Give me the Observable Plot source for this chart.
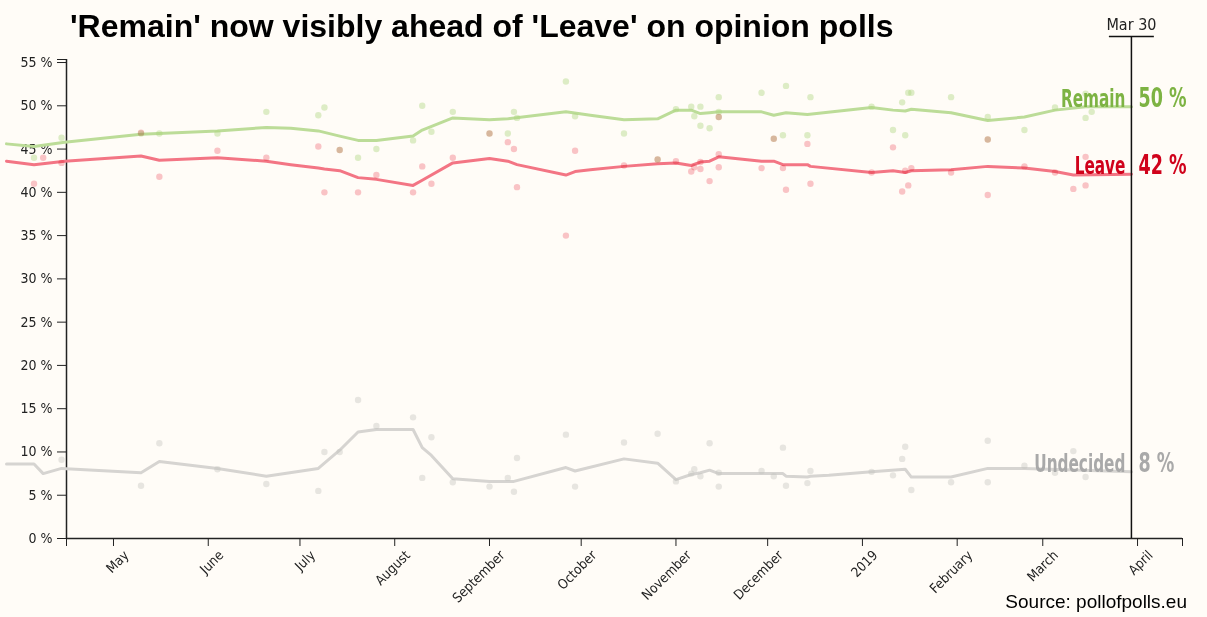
<!DOCTYPE html>
<html>
<head>
<meta charset="utf-8">
<script src="https://cdn.jsdelivr.net/npm/d3@7"></script>
<script src="https://cdn.jsdelivr.net/npm/@observablehq/plot@0.6"></script>
<style>
  html, body { margin: 0; padding: 0; background: #fffcf7; }
  #wrap { position: relative; width: 1207px; height: 617px; overflow: hidden; }
  #chart { position: absolute; left: 0; top: 0; }
  #title { position: absolute; left: 70px; top: 9.6px; font: bold 32px "Liberation Sans", Arial, sans-serif; line-height: 32px; color: #000; white-space: nowrap; }
  #source { position: absolute; right: 20px; top: 592px; font: 19px "Liberation Sans", Arial, sans-serif; line-height: 19px; color: #000; white-space: nowrap; }
</style>
</head>
<body>
<div id="wrap">
  <div id="chart"></div>
  <div id="title">'Remain' now visibly ahead of 'Leave' on opinion polls</div>
  <div id="source">Source: pollofpolls.eu</div>
</div>
<script>
// ---------- DATA ----------
const seriesNames = ["Remain", "Leave", "Undecided"];

const remainTrend = [
  ["2018-03-27", 45.6], ["2018-04-05", 45.3], ["2018-04-15", 45.8], ["2018-05-10", 46.7],
  ["2018-06-04", 47.1], ["2018-06-20", 47.5], ["2018-06-28", 47.4], ["2018-07-07", 47.1],
  ["2018-07-14", 46.5], ["2018-07-20", 46.0], ["2018-07-26", 46.0], ["2018-08-07", 46.5],
  ["2018-08-10", 47.2], ["2018-08-20", 48.6], ["2018-09-01", 48.4], ["2018-09-07", 48.5],
  ["2018-09-26", 49.3], ["2018-10-04", 48.9], ["2018-10-15", 48.4], ["2018-10-26", 48.5],
  ["2018-11-01", 49.5], ["2018-11-06", 49.5], ["2018-11-09", 49.1], ["2018-11-12", 49.2],
  ["2018-11-15", 49.3], ["2018-11-29", 49.3], ["2018-12-03", 48.9], ["2018-12-07", 49.2],
  ["2018-12-14", 49.0], ["2019-01-04", 49.8], ["2019-01-11", 49.5], ["2019-01-15", 49.4],
  ["2019-01-17", 49.6], ["2019-01-30", 49.2], ["2019-02-11", 48.3], ["2019-02-23", 48.7],
  ["2019-03-05", 49.5], ["2019-03-15", 49.9], ["2019-03-30", 49.9]
];

const leaveTrend = [
  ["2018-03-27", 43.6], ["2018-04-05", 43.2], ["2018-04-15", 43.6], ["2018-05-10", 44.2],
  ["2018-05-16", 43.7], ["2018-06-04", 44.0], ["2018-06-20", 43.6], ["2018-06-28", 43.2],
  ["2018-07-07", 42.8], ["2018-07-09", 42.7], ["2018-07-14", 42.5], ["2018-07-20", 41.7],
  ["2018-07-26", 41.5], ["2018-08-07", 40.8], ["2018-08-10", 41.4], ["2018-08-20", 43.4],
  ["2018-09-01", 43.9], ["2018-09-07", 43.6], ["2018-09-10", 43.2], ["2018-09-26", 42.0],
  ["2018-09-29", 42.4], ["2018-10-04", 42.6], ["2018-10-15", 43.0], ["2018-10-26", 43.3],
  ["2018-11-01", 43.4], ["2018-11-06", 43.1], ["2018-11-09", 43.5], ["2018-11-12", 43.6],
  ["2018-11-15", 44.1], ["2018-11-29", 43.6], ["2018-12-03", 43.6], ["2018-12-06", 43.2],
  ["2018-12-14", 43.2], ["2018-12-15", 43.0], ["2019-01-04", 42.3], ["2019-01-11", 42.5],
  ["2019-01-15", 42.3], ["2019-01-17", 42.5], ["2019-01-30", 42.6], ["2019-02-11", 43.0],
  ["2019-02-23", 42.8], ["2019-03-05", 42.4], ["2019-03-11", 42.0], ["2019-03-30", 42.1]
];

const undecidedTrend = [
  ["2018-03-27", 8.6], ["2018-04-05", 8.6], ["2018-04-08", 7.5], ["2018-04-14", 8.1],
  ["2018-05-10", 7.6], ["2018-05-16", 8.9], ["2018-06-04", 8.1], ["2018-06-20", 7.2],
  ["2018-07-07", 8.1], ["2018-07-09", 8.7], ["2018-07-14", 10.2], ["2018-07-20", 12.3],
  ["2018-07-26", 12.6], ["2018-08-07", 12.6], ["2018-08-10", 10.5], ["2018-08-13", 9.6],
  ["2018-08-20", 6.9], ["2018-09-01", 6.6], ["2018-09-07", 6.6], ["2018-09-09", 6.6],
  ["2018-09-26", 8.2], ["2018-09-29", 7.8], ["2018-10-15", 9.2], ["2018-10-26", 8.7],
  ["2018-11-01", 6.8], ["2018-11-06", 7.4], ["2018-11-09", 7.6], ["2018-11-12", 7.9],
  ["2018-11-15", 7.5], ["2018-12-06", 7.5], ["2018-12-07", 7.2], ["2018-12-14", 7.1],
  ["2018-12-15", 7.2], ["2018-12-21", 7.3], ["2019-01-04", 7.7], ["2019-01-15", 8.0],
  ["2019-01-17", 7.1], ["2019-01-30", 7.1], ["2019-02-11", 8.1], ["2019-02-23", 8.1],
  ["2019-03-30", 7.7]
];

// individual polls: date, remain, leave, undecided
const pollDates = [
  "2018-04-05","2018-04-08","2018-04-14","2018-05-10","2018-05-16","2018-06-04","2018-06-20",
  "2018-07-07","2018-07-09","2018-07-14","2018-07-20","2018-07-26","2018-08-07","2018-08-10",
  "2018-08-13","2018-08-20","2018-09-01","2018-09-07","2018-09-09","2018-09-10","2018-09-26",
  "2018-09-29","2018-10-15","2018-10-26","2018-11-01","2018-11-06","2018-11-07","2018-11-09",
  "2018-11-09","2018-11-12","2018-11-15","2018-11-15","2018-11-15","2018-11-29","2018-12-03",
  "2018-12-06","2018-12-07","2018-12-14","2018-12-15","2019-01-04","2019-01-11","2019-01-14",
  "2019-01-15","2019-01-16","2019-01-17","2019-01-30","2019-02-11","2019-02-11","2019-02-23",
  "2019-03-05","2019-03-11","2019-03-15","2019-03-15","2019-03-17"
];
const remainPolls = [
  44, null, 46.3, 46.8, 46.8, 46.8, 49.3,
  48.9, 49.8, 44.9, 44, 45, 46, 50,
  47, 49.3, 46.8, 46.8, 49.3, 48.6, 52.8,
  48.8, 46.8, 43.8, 49.6, 49.9, 48.8, 49.9,
  47.7, 47.4, 51, 49.3, 48.7, 51.5, 46.2,
  46.6, 52.3, 46.6, 51, 49.9, 47.2, 50.4,
  46.6, 51.5, 51.5, 51, 48.7, 46.1, 47.2,
  49.8, null, 51.4, 48.6, 49.3
];
const leavePolls = [
  41, 44, 43.4, 46.9, 41.8, 44.8, 44,
  45.3, 40, 44.9, 40, 42, 40, 43,
  41, 44, 46.8, 45.8, 45, 40.6, 35,
  44.8, 43.1, 43.8, 43.6, 42.4, 42.9, 43.5,
  42.7, 41.3, 44.4, 42.9, 48.7, 42.8, 46.2,
  42.8, 40.3, 45.6, 41, 42.3, 45.2, 40.1,
  42.5, 40.8, 42.8, 42.3, 39.7, 46.1, 43,
  42.3, 40.4, 44.1, 40.8, null
];
const undecidedPolls = [
  null, null, 9.1, 6.1, 11, 8, 6.3,
  5.5, 10, 10, 16, 13, 14, 7,
  11.7, 6.5, 6, 7, 5.4, 9.3, 12,
  6, 11.1, 12.1, 6.6, 7.5, 8, 7.2,
  null, 11, 7.6, 6, null, 7.8, 7.2,
  10.5, 6.1, 6.4, 7.8, 7.7, 7.3, 9.2,
  10.6, null, 5.6, 6.5, 11.3, 6.5, 8.4,
  7.6, 10.1, 7.1, null, null
];

// axes
const xDomainDates = ["2018-04-15T15:00:00Z", "2019-04-15T17:00:00Z"];
const monthTickDates = ["2018-05-01","2018-06-01","2018-07-01","2018-08-01","2018-09-01","2018-10-01",
  "2018-11-01","2018-12-01","2019-01-01","2019-02-01","2019-03-01","2019-04-01"];
const monthTickLabels = ["May","June","July","August","September","October",
  "November","December","2019","February","March","April"];
const yTickValues = [0, 5, 10, 15, 20, 25, 30, 35, 40, 45, 50, 55];
const yTop = 55.35;
const markerDate = "2019-03-30";
const markerLabel = "Mar 30";

// ---------- BUILD ----------
const toRows = arr => arr.map(([d, v]) => ({date: new Date(d), value: v}));
const trends = [remainTrend, leaveTrend, undecidedTrend].map(toRows);
const polls = pollDates.map((d, i) => ({
  date: new Date(d), remain: remainPolls[i], leave: leavePolls[i], undecided: undecidedPolls[i]
}));
const xDomain = xDomainDates.map(d => new Date(d));
const monthTicks = monthTickDates.map(d => new Date(d));
const marker = new Date(markerDate);

const lineColors = ["#bcdc98", "#f37584", "#d6d4d1"];
const dotColors  = ["#a9d47a", "#f0707f", "#c4c2bf"];
const labelColors = ["#7db343", "#d0021b", "#a9a9a9"];
const cond = '"DejaVu Sans Condensed", "Liberation Sans Narrow", "Arial Narrow", sans-serif';

const endLabels = trends.map((t, i) => {
  const last = t[t.length - 1];
  return {date: last.date, value: last.value, name: seriesNames[i], pct: Math.round(last.value) + " %"};
});

const marks = [
  Plot.ruleX([xDomain[0]], {stroke: "#222", strokeWidth: 1.5}),
  Plot.ruleY([0], {stroke: "#222", strokeWidth: 1.5}),
  Plot.axisY({
    ticks: [...yTickValues, yTop], tickSize: 9, tickPadding: 5, label: null,
    tickFormat: d => yTickValues.includes(d) ? d + " %" : "", fontSize: 14, fill: "#222", stroke: "#222"
  }),
  Plot.axisX({
    ticks: [xDomain[0], ...monthTicks, xDomain[1]], tickSize: 8, label: null,
    tickFormat: () => "", stroke: "#222"
  }),
  Plot.text(monthTicks, {
    x: d => d, text: (d, i) => monthTickLabels[i], frameAnchor: "bottom",
    rotate: -45, textAnchor: "end", lineAnchor: "middle", dx: 13, dy: 14.5,
    fontSize: 13.5, fill: "#222"
  }),
  ...trends.map((t, i) => Plot.line(t, {x: "date", y: "value", stroke: lineColors[i], strokeWidth: 3})),
  Plot.dot(polls, {x: "date", y: "undecided", r: 3.2, fill: dotColors[2], fillOpacity: 0.4, stroke: null}),
  Plot.dot(polls, {x: "date", y: "remain", r: 3.2, fill: dotColors[0], fillOpacity: 0.4, stroke: null}),
  Plot.dot(polls, {x: "date", y: "leave", r: 3.2, fill: dotColors[1], fillOpacity: 0.4, stroke: null, mixBlendMode: "multiply"}),
  Plot.ruleX([marker], {y1: 0, y2: 58, stroke: "#111", strokeWidth: 1.5}),
  Plot.ruleY([58], {x1: d3.utcHour.offset(marker, -7.2 * 24), x2: d3.utcHour.offset(marker, 7.5 * 24), stroke: "#111", strokeWidth: 1.5}),
  Plot.text([markerLabel], {x: marker, y: 58, text: d => d, lineAnchor: "bottom", dy: -7, fontSize: 16, fill: "#222"}),
  ...endLabels.map((e, i) => Plot.text([e], {x: "date", y: "value", text: "name", textAnchor: "end", lineAnchor: "bottom", dx: -6, fontSize: 17, fontWeight: "bold", fill: labelColors[i]})),
  ...endLabels.map((e, i) => Plot.text([e], {x: "date", y: "value", text: "pct", textAnchor: "start", lineAnchor: "bottom", dx: 7, fontSize: 19.5, fontWeight: "bold", fill: labelColors[i]}))
];

const chart = Plot.plot({
  width: 1207, height: 617,
  marginLeft: 66, marginRight: 25, marginTop: 59, marginBottom: 79,
  x: {type: "utc", domain: xDomain},
  y: {domain: [0, yTop]},
  style: {fontFamily: cond, background: "transparent", color: "#222", overflow: "visible"},
  marks
});
document.getElementById("chart").appendChild(chart);

// stretch the end labels vertically so they look like the tall narrow display face of the original
const stretch = {17: 1.5, 19.5: 1.33};
chart.querySelectorAll("text").forEach(t => {
  const holder = t.closest("[font-weight]");
  if (!holder || holder.getAttribute("font-weight") !== "bold") return;
  const fsHolder = t.closest("[font-size]");
  const s = stretch[parseFloat(fsHolder.getAttribute("font-size"))];
  if (!s) return;
  const tr = t.getAttribute("transform") || "";
  t.setAttribute("transform", `${tr} scale(1,${s})`);
});
</script>
</body>
</html>
